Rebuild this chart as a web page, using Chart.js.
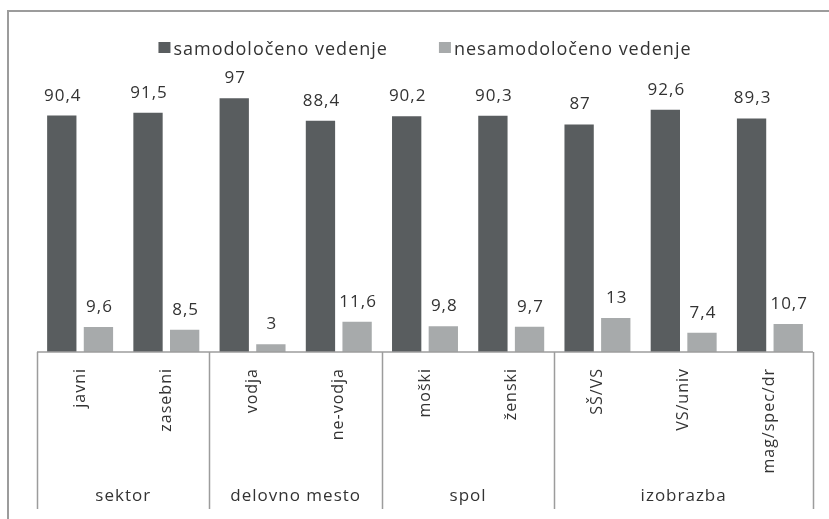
<!DOCTYPE html>
<html><head><meta charset="utf-8">
<script src="https://cdn.jsdelivr.net/npm/chart.js@4/dist/chart.umd.min.js"></script>
<style>html,body{margin:0;padding:0;background:#fff}#wrap{width:829px;height:519px;position:relative}</style>
</head><body><div id="wrap"><canvas id="c" width="829" height="519"></canvas></div>
<script>
const categories = ['javni','zasebni','vodja','ne-vodja','moški','ženski','SŠ/VS','VS/univ','mag/spec/dr'];
const groupLabels = ['sektor','delovno mesto','spol','izobrazba'];
const groupSizes = [2,2,2,3];
const seriesNames = ['samodoločeno vedenje','nesamodoločeno vedenje'];
const selfDetermined = [90.4,91.5,97,88.4,90.2,90.3,87,92.6,89.3];
const notSelfDetermined = [9.6,8.5,3,11.6,9.8,9.7,13,7.4,10.7];

const FONT_FAMILY = "'Open Sans', sans-serif";
const TEXT_COLOR = '#333333';
const LINE_COLOR = '#9c9c9c';
const SPACING = '1px';

const spacingPlugin = {
  id: 'spacing',
  beforeUpdate(c){ c.ctx.letterSpacing = SPACING; },
  beforeLayout(c){ c.ctx.letterSpacing = SPACING; },
  beforeDraw(c){ c.ctx.letterSpacing = SPACING; }
};

const framePlugin = {
  id: 'frame',
  beforeDraw(c){
    const ctx = c.ctx;
    ctx.save();
    ctx.strokeStyle = LINE_COLOR;
    ctx.lineWidth = 2;
    ctx.beginPath();
    ctx.moveTo(8, c.height + 5);
    ctx.lineTo(8, 11);
    ctx.lineTo(c.width + 5, 11);
    ctx.stroke();
    ctx.restore();
  }
};

const legendPlugin = {
  id: 'customLegend',
  afterDraw(c){
    const ctx = c.ctx;
    ctx.save();
    ctx.letterSpacing = '1px';
    ctx.font = '18px ' + FONT_FAMILY;
    ctx.textBaseline = 'alphabetic';
    ctx.textAlign = 'left';
    const box = 12, gapText = 3, gapItem = 51;
    const widths = c.data.datasets.map(d => ctx.measureText(d.label).width);
    let total = 0;
    widths.forEach((w,i) => { total += box + gapText + w + (i < widths.length-1 ? gapItem : 0); });
    const ca = c.chartArea;
    let x = (ca.left + ca.right) / 2 - total / 2;
    const y = 55;
    c.data.datasets.forEach((d,i) => {
      ctx.fillStyle = d.backgroundColor;
      ctx.fillRect(x, 42, box, 11);
      ctx.fillStyle = TEXT_COLOR;
      ctx.fillText(d.label, x + box + gapText, y);
      x += box + gapText + widths[i] + gapItem;
    });
    ctx.restore();
  }
};

const valueLabelPlugin = {
  id: 'valueLabels',
  afterDatasetsDraw(c){
    const ctx = c.ctx;
    ctx.save();
    ctx.letterSpacing = '1px';
    ctx.font = '17px ' + FONT_FAMILY;
    ctx.fillStyle = TEXT_COLOR;
    ctx.textAlign = 'center';
    ctx.textBaseline = 'alphabetic';
    c.data.datasets.forEach((d, di) => {
      const meta = c.getDatasetMeta(di);
      meta.data.forEach((bar, i) => {
        const txt = String(d.data[i]).replace('.', ',');
        ctx.fillText(txt, bar.x + 1, bar.y - 15);
      });
    });
    ctx.restore();
  }
};

const groupPlugin = {
  id: 'groups',
  afterDraw(c){
    const ctx = c.ctx;
    const xs = c.scales.x;
    const ca = c.chartArea;
    const half = (xs.getPixelForValue(1) - xs.getPixelForValue(0)) / 2;
    const top = ca.bottom, bottom = 509;
    ctx.save();
    ctx.strokeStyle = LINE_COLOR;
    ctx.lineWidth = 1.5;
    ctx.beginPath();
    ctx.moveTo(ca.left, top);
    ctx.lineTo(ca.right, top);
    ctx.stroke();
    let idx = 0;
    const bounds = [xs.getPixelForValue(0) - half];
    groupSizes.forEach(n => { idx += n; bounds.push(xs.getPixelForValue(idx - 1) + half); });
    ctx.beginPath();
    bounds.forEach(b => { ctx.moveTo(Math.round(b) + 0.5, top); ctx.lineTo(Math.round(b) + 0.5, bottom); });
    ctx.stroke();
    ctx.letterSpacing = '1px';
    ctx.font = '17px ' + FONT_FAMILY;
    ctx.fillStyle = TEXT_COLOR;
    ctx.textAlign = 'center';
    ctx.textBaseline = 'alphabetic';
    groupLabels.forEach((g, i) => {
      ctx.fillText(g, (bounds[i] + bounds[i+1]) / 2, 501);
    });
    ctx.restore();
  }
};

new Chart(document.getElementById('c'), {
  type: 'bar',
  data: {
    labels: categories,
    datasets: [
      { label: seriesNames[0], data: selfDetermined, backgroundColor: '#595d5f', categoryPercentage: 0.85, barPercentage: 0.8 },
      { label: seriesNames[1], data: notSelfDetermined, backgroundColor: '#a7aaab', categoryPercentage: 0.85, barPercentage: 0.8 }
    ]
  },
  options: {
    responsive: false,
    animation: false,
    devicePixelRatio: 1,
    layout: { padding: { left: 37, right: 16, top: 90.5, bottom: 0 } },
    plugins: { legend: { display: false }, tooltip: { enabled: false } },
    scales: {
      y: { display: false, min: 0, max: 100 },
      x: {
        grid: { display: false },
        border: { display: false },
        ticks: {
          autoSkip: false, minRotation: 90, maxRotation: 90, padding: 8,
          color: TEXT_COLOR, font: { family: FONT_FAMILY, size: 16 }
        },
        afterFit(scale){ scale.height = 167; }
      }
    }
  },
  plugins: [spacingPlugin, framePlugin, valueLabelPlugin, groupPlugin, legendPlugin]
});
</script></body></html>
